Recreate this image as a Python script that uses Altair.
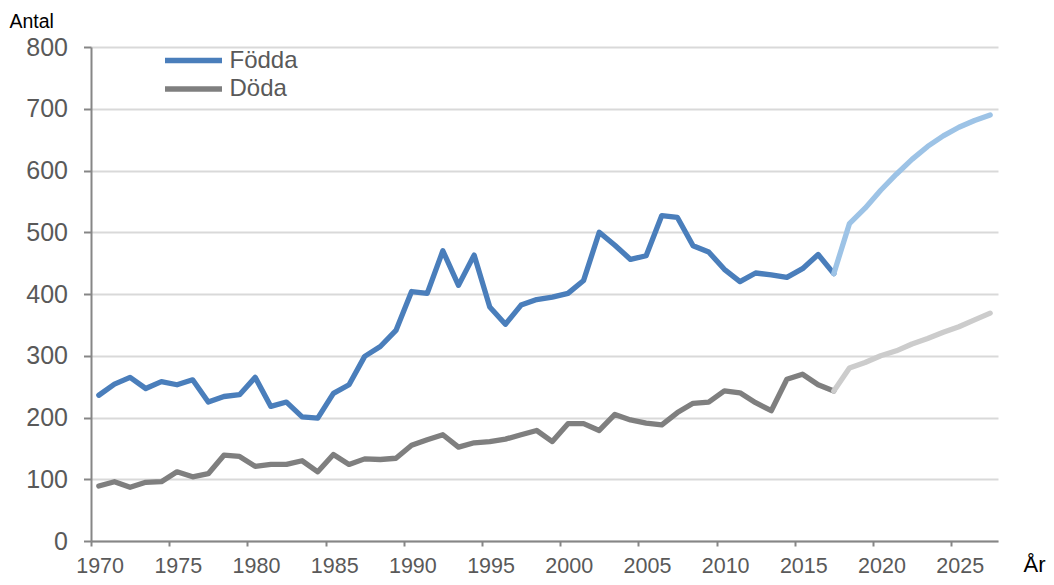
import altair as alt
import pandas as pd

years_hist = list(range(1970, 2018))
fodda_hist = [236, 254, 265, 247, 258, 253, 261, 225, 234, 237,
              265, 218, 225, 201, 199, 239, 253, 299, 315, 341,
              404, 401, 470, 414, 463, 379, 351, 382, 391, 395,
              401, 422, 500, 479, 456, 462, 527, 524, 478, 468,
              440, 420, 434, 431, 427, 441, 464, 433]
doda_hist = [89, 96, 87, 95, 96, 112, 104, 109, 139, 137,
             121, 124, 124, 130, 112, 140, 124, 133, 132, 134,
             155, 164, 172, 152, 159, 161, 165, 172, 179, 161,
             190, 190, 179, 205, 196, 191, 188, 208, 223, 225,
             243, 240, 224, 211, 262, 270, 253, 243]

years_prog = list(range(2017, 2028))
fodda_prog = [433, 514, 539, 568, 594, 618, 639, 656, 670, 681, 690]
doda_prog = [243, 280, 289, 300, 308, 319, 328, 338, 347, 358, 369]

series = ["Födda", "Döda"]
x_ticks = list(range(1970, 2030, 5))
y_ticks = list(range(0, 900, 100))

hist = pd.DataFrame({
    "År": years_hist * 2,
    "Antal": fodda_hist + doda_hist,
    "Serie": ["Födda"] * len(years_hist) + ["Döda"] * len(years_hist),
})
prog = pd.DataFrame({
    "År": years_prog * 2,
    "Antal": fodda_prog + doda_prog,
    "Serie": ["Födda"] * len(years_prog) + ["Döda"] * len(years_prog),
})

FONT = "Liberation Sans"
TXT = "#595959"
AX = "#868686"
half_year = 907 / 58 / 2

x_enc = alt.X("År:Q",
              scale=alt.Scale(domain=[1969.5, 2027.5], nice=False, zero=False),
              axis=alt.Axis(values=x_ticks, format="d", grid=False,
                            tickOffset=-half_year, labelOffset=half_year + 0.8,
                            tickSize=5, tickColor=AX, tickWidth=2,
                            domainColor=AX, domainWidth=2,
                            labelFont=FONT, labelFontSize=21.5, labelColor=TXT,
                            labelPadding=9,
                            title="År", titleFont=FONT, titleFontSize=22,
                            titleFontWeight="normal", titleColor="#000000",
                            titleAngle=0, titleAlign="left", titleBaseline="alphabetic",
                            titleX=932, titleY=30))
y_enc = alt.Y("Antal:Q",
              scale=alt.Scale(domain=[0, 800], nice=False),
              axis=alt.Axis(values=y_ticks, grid=True, gridColor="#d9d9d9", gridWidth=1.8,
                            tickSize=7.5, tickColor=AX, tickWidth=2,
                            domainColor=AX, domainWidth=2,
                            labelFont=FONT, labelFontSize=25, labelColor=TXT,
                            labelPadding=16,
                            title="Antal", titleFont=FONT, titleFontSize=19.5,
                            titleFontWeight="normal", titleColor="#000000",
                            titleAngle=0, titleAlign="left", titleBaseline="alphabetic",
                            titleX=-82, titleY=-20))

hist_layer = alt.Chart(hist).mark_line(strokeWidth=5.3, strokeCap="round", strokeJoin="round").encode(
    x=x_enc, y=y_enc,
    color=alt.Color("Serie:N",
                    scale=alt.Scale(domain=series, range=["#4a7ebb", "#7f7f7f"]),
                    sort=series,
                    legend=alt.Legend(title=None, orient="none", legendX=90.5, legendY=1.5,
                                      padding=0, symbolType="M-5.7,0H5.7", symbolSize=100,
                                      symbolStrokeWidth=5.3, labelOffset=24,
                                      labelFont=FONT, labelFontSize=24, labelColor=TXT,
                                      rowPadding=4.5)),
)

prog_layer = alt.Chart(prog).mark_line(strokeWidth=5.3, strokeCap="round", strokeJoin="round").encode(
    x="År:Q", y="Antal:Q",
    detail="Serie:N",
    stroke=alt.Stroke("Serie:N",
                      scale=alt.Scale(domain=series, range=["#9dc3e6", "#cccccc"]),
                      legend=None),
)

chart = alt.layer(hist_layer, prog_layer).properties(
    width=907, height=494,
    autosize=alt.AutoSizeParams(type="none"),
    padding={"left": 83, "top": 39, "right": 48, "bottom": 36},
).configure_view(stroke=None)

chart.save("out.html", embed_options={"renderer": "svg", "actions": False})
